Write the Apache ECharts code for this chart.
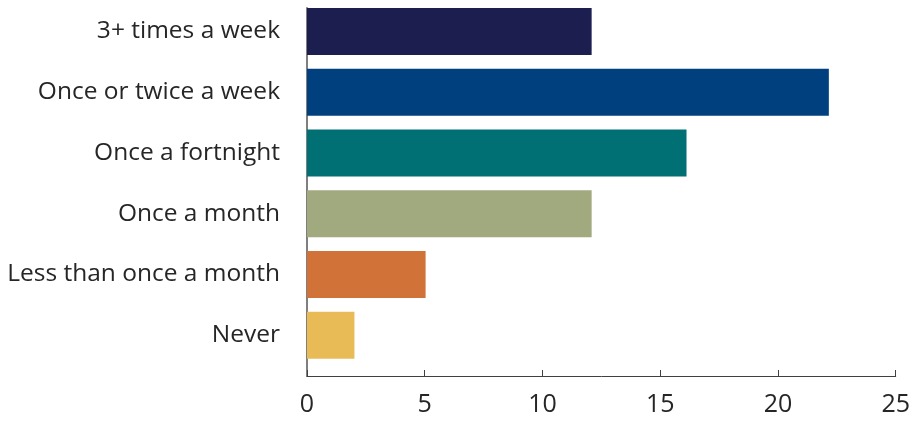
<!DOCTYPE html>
<html>
<head>
<meta charset="utf-8">
<script src="https://cdn.jsdelivr.net/npm/echarts@6/dist/echarts.min.js"></script>
<style>
  html, body { margin: 0; padding: 0; background: #fff; }
  #chart { width: 913px; height: 421px; }
</style>
</head>
<body>
<div id="chart"></div>
<script>
// Frequency categories, top to bottom as drawn
const categories = [
  '3+ times a week',
  'Once or twice a week',
  'Once a fortnight',
  'Once a month',
  'Less than once a month',
  'Never',
];
const values = [12, 22, 16, 12, 5, 2];
const barColors = ['#1D1E50', '#00407E', '#007075', '#A1A97E', '#D17239', '#E9BB57'];

const xMin = 0, xMax = 25, xStep = 5;
const FONT = '"Open Sans", "Noto Sans", sans-serif';

const chart = echarts.init(document.getElementById('chart'), null, { renderer: 'canvas' });

chart.setOption({
  animation: false,
  textStyle: { fontFamily: FONT },
  grid: [
    // bars + category labels
    { left: 307, right: 13, top: 1, bottom: 55.5 },
    // axis frame (left line and bottom axis)
    { left: 307, right: 13, top: 8, bottom: 45 },
  ],
  xAxis: [
    { gridIndex: 0, type: 'value', min: xMin, max: xMax, interval: xStep, show: false },
    {
      gridIndex: 1, type: 'value', min: xMin, max: xMax, interval: xStep,
      axisLine: { show: true, lineStyle: { color: '#404040', width: 1 } },
      axisTick: { show: true, inside: true, length: 6, lineStyle: { color: '#404040' } },
      axisLabel: { color: '#262626', fontSize: 25, margin: 16, fontFamily: FONT },
      splitLine: { show: false },
    },
  ],
  yAxis: [
    {
      gridIndex: 0, type: 'category', data: categories, inverse: true,
      axisLine: { show: false }, axisTick: { show: false },
      axisLabel: { color: '#262626', fontSize: 24.5, margin: 27, fontFamily: FONT },
    },
    {
      gridIndex: 1, type: 'value', min: 0, max: 1,
      axisLine: { show: true, lineStyle: { color: '#7F7F7F', width: 2 } },
      axisTick: { show: false }, axisLabel: { show: false }, splitLine: { show: false },
    },
  ],
  series: [{
    type: 'bar',
    xAxisIndex: 0, yAxisIndex: 0,
    barWidth: 47,
    data: values.map((v, i) => ({ value: v, itemStyle: { color: barColors[i] } })),
  }],
});
</script>
</body>
</html>
